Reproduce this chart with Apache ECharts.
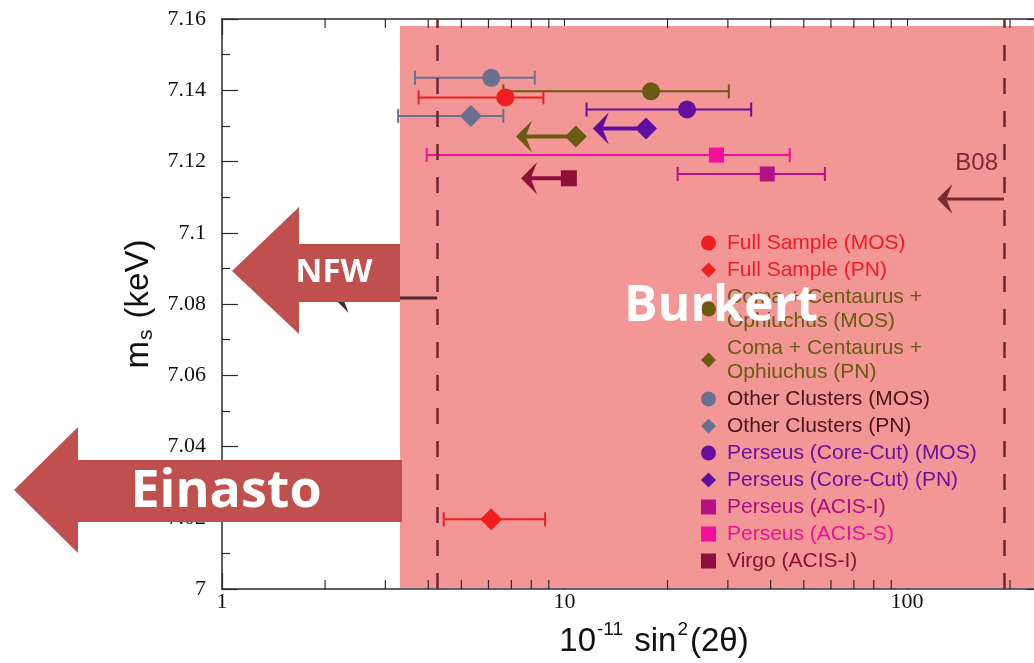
<!DOCTYPE html>
<html>
<head>
<meta charset="utf-8">
<script src="https://cdn.jsdelivr.net/npm/echarts@6/dist/echarts.min.js"></script>
<style>
  html, body { margin: 0; padding: 0; background: #fff; }
  #chart { width: 1034px; height: 663px; }
</style>
</head>
<body>
<div id="chart"></div>
<script>
// legend names of the samples
const names = [
  'Full Sample (MOS)', 'Full Sample (PN)',
  'Coma + Centaurus +\nOphiuchus (MOS)', 'Coma + Centaurus +\nOphiuchus (PN)',
  'Other Clusters (MOS)', 'Other Clusters (PN)',
  'Perseus (Core-Cut) (MOS)', 'Perseus (Core-Cut) (PN)',
  'Perseus (ACIS-I)', 'Perseus (ACIS-S)', 'Virgo (ACIS-I)'
]
const symbols = ['circle', 'diamond', 'circle', 'diamond', 'circle', 'diamond', 'circle', 'diamond', 'rect', 'rect', 'rect']
const symbolSizes = [18, 22, 18, 22, 18, 22, 18, 22, 15, 15, 16]
const colors = ['#f01e1e', '#f01e1e', '#6b5a12', '#6b5a12', '#68728f', '#68728f', '#650e9b', '#5f0fa0', '#b3108a', '#f20f9b', '#8e0f3a']
const textColors = ['#ee1c24', '#ee1c24', '#6b5a12', '#6b5a12', '#4a1518', '#4a1518', '#6a12a0', '#6a12a0', '#a8107f', '#f0109a', '#8a1030']

// best fit: 10^-11 sin^2(2θ) and m_s (keV)
const sin2 = [6.72, 6.11, 17.9, 10.8, 6.11, 5.33, 22.8, 17.3, 39.1, 27.8, 10.3]
const energy = [7.138, 7.0196, 7.1397, 7.127, 7.1435, 7.1328, 7.1346, 7.1293, 7.1165, 7.1218, 7.1153]
const sin2Low = [3.75, 4.44, 6.63, null, 3.66, 3.27, 11.6, null, 21.4, 3.96, null]
const sin2High = [8.68, 8.78, 30.2, null, 8.19, 6.63, 35.1, null, 57.6, 45.5, null]
// upper limits, arrow runs from the point to here
const sin2Limit = [null, null, null, 7.22, null, null, null, 12.1, null, null, 7.47]

// dashed bounds and their arrows (B08 on the right)
const boundX = [4.25, 192]
const noteFrom = [192, 4.25]
const noteTo = [122.7, 2.12]
const noteY = [7.1095, 7.0817]

// axes
const xMin = 1, xMax = 235
const yMin = 7, yMax = 7.16, yStep = 0.02
const xMinorTicks = [2, 3, 4, 5, 6, 7, 8, 9, 20, 30, 40, 50, 60, 70, 80, 90, 200]

const axisColor = '#2a2a2a'
const serif = 'Liberation Serif'
const sans = 'Liberation Sans'

function arrowShapes(x0, y0, tx, ty, color, w, head) {
  return [
    { type: 'line', shape: { x1: x0, y1: y0, x2: tx + head * 0.6, y2: ty },
      style: { stroke: color, lineWidth: w } },
    { type: 'polygon',
      shape: { points: [[tx, ty], [tx + head, ty - head], [tx + head * 0.6, ty], [tx + head, ty + head]] },
      style: { fill: color } }
  ]
}

const series = []

// minor ticks of the log axis, bottom and top
series.push({
  type: 'custom',
  silent: true,
  z: 3,
  data: xMinorTicks.map(v => [v, yMin]),
  encode: { x: 0, y: 1 },
  renderItem(params, api) {
    const b = api.coord([api.value(0), yMin])
    const t = api.coord([api.value(0), yMax])
    return {
      type: 'group',
      children: [
        { type: 'line', shape: { x1: b[0], y1: b[1], x2: b[0], y2: b[1] - 9 }, style: { stroke: axisColor, lineWidth: 1.2 } },
        { type: 'line', shape: { x1: t[0], y1: t[1], x2: t[0], y2: t[1] + 9 }, style: { stroke: axisColor, lineWidth: 1.2 } }
      ]
    }
  }
})

// dashed bounds
series.push({
  type: 'line',
  data: [],
  silent: true,
  markLine: {
    symbol: 'none',
    label: { show: false },
    lineStyle: { color: '#6e2630', width: 2.5, type: [16, 17] },
    data: boundX.map(v => ({ xAxis: v }))
  }
})

// error bars
const errRows = []
sin2Low.forEach((lo, i) => { if (lo != null) errRows.push([lo, sin2High[i], energy[i], i]) })
series.push({
  type: 'custom',
  silent: true,
  z: 4,
  data: errRows,
  encode: { x: [0, 1], y: 2 },
  renderItem(params, api) {
    const c = colors[api.value(3)]
    const a = api.coord([api.value(0), api.value(2)])
    const b = api.coord([api.value(1), api.value(2)])
    const st = { stroke: c, lineWidth: 2 }
    return {
      type: 'group',
      children: [
        { type: 'line', shape: { x1: a[0], y1: a[1], x2: b[0], y2: b[1] }, style: st },
        { type: 'line', shape: { x1: a[0], y1: a[1] - 7, x2: a[0], y2: a[1] + 7 }, style: st },
        { type: 'line', shape: { x1: b[0], y1: b[1] - 7, x2: b[0], y2: b[1] + 7 }, style: st }
      ]
    }
  }
})

// upper limit arrows
const limRows = []
sin2Limit.forEach((v, i) => { if (v != null) limRows.push([sin2[i], energy[i], v, i]) })
series.push({
  type: 'custom',
  silent: true,
  z: 4,
  data: limRows,
  encode: { x: [0, 2], y: 1 },
  renderItem(params, api) {
    const p = api.coord([api.value(0), api.value(1)])
    const t = api.coord([api.value(2), api.value(1)])
    return { type: 'group', children: arrowShapes(p[0], p[1], t[0], t[1], colors[api.value(3)], 4, 16) }
  }
})

// arrows from the bounds
series.push({
  type: 'custom',
  silent: true,
  z: 4,
  data: noteFrom.map((v, i) => [v, noteY[i], noteTo[i]]),
  encode: { x: [0, 2], y: 1 },
  renderItem(params, api) {
    const p = api.coord([api.value(0), api.value(1)])
    const t = api.coord([api.value(2), api.value(1)])
    const c = params.dataIndex === 0 ? '#7b2a33' : '#4a2a2a'
    return { type: 'group', children: arrowShapes(p[0], p[1], t[0], t[1], c, 3, 15) }
  }
})

// the points
names.forEach((n, i) => {
  series.push({
    name: n,
    type: 'scatter',
    symbol: symbols[i],
    symbolSize: symbolSizes[i],
    z: 6,
    itemStyle: { color: colors[i], opacity: 1 },
    data: [[sin2[i], energy[i]]]
  })
})

const tickStyle = { lineStyle: { color: axisColor, width: 1.2 } }

const option = {
  animation: false,
  backgroundColor: '#fff',
  grid: { left: 222, top: 19, right: 0, bottom: 70 },
  xAxis: [{
    type: 'log',
    min: xMin,
    max: xMax,
    logBase: 10,
    name: '{a|10}{p|-11}{a| sin}{p|2}{a|(2θ)}',
    nameLocation: 'middle',
    nameGap: 24,
    nameTextStyle: {
      padding: [0, 0, 0, 52],
      rich: {
        a: { fontFamily: sans, fontSize: 33, color: '#111', lineHeight: 40, verticalAlign: 'bottom' },
        p: { fontFamily: sans, fontSize: 19, color: '#111', lineHeight: 19, verticalAlign: 'top', padding: [2, 2, 0, 1] }
      }
    },
    axisLine: { lineStyle: { color: axisColor, width: 1.5 } },
    axisTick: { inside: true, length: 16, ...tickStyle },
    splitLine: { show: false },
    axisLabel: { fontFamily: serif, fontSize: 22, color: '#111', margin: 2, showMaxLabel: false }
  }, {
    type: 'log',
    position: 'top',
    min: xMin,
    max: xMax,
    logBase: 10,
    axisLine: { lineStyle: { color: axisColor, width: 1.5 } },
    axisTick: { inside: true, length: 16, ...tickStyle },
    axisLabel: { show: false },
    splitLine: { show: false }
  }],
  yAxis: [{
    type: 'value',
    min: yMin,
    max: yMax,
    interval: yStep,
    name: '{a|m}{s|s}{a| (keV)}',
    nameLocation: 'middle',
    nameRotate: 90,
    nameGap: 46,
    nameTextStyle: {
      rich: {
        a: { fontFamily: sans, fontSize: 33, color: '#111', lineHeight: 34, verticalAlign: 'top' },
        s: { fontFamily: sans, fontSize: 21, color: '#111', lineHeight: 21, verticalAlign: 'bottom', padding: [20, 2, 0, 1] }
      }
    },
    axisLine: { lineStyle: { color: axisColor, width: 1.5 } },
    axisTick: { inside: true, length: 16, ...tickStyle },
    minorTick: { show: true, splitNumber: 2, length: 8, ...tickStyle },
    splitLine: { show: false },
    axisLabel: { fontFamily: serif, fontSize: 22, color: '#111', margin: 16 }
  }, {
    type: 'value',
    position: 'right',
    min: yMin,
    max: yMax,
    interval: yStep,
    axisLine: { show: false },
    axisTick: { inside: true, length: 7, ...tickStyle },
    axisLabel: { show: false },
    splitLine: { show: false }
  }],
  legend: {
    data: names.map((n, i) => ({ name: n, textStyle: { color: textColors[i] } })),
    orient: 'vertical',
    left: 696,
    top: 226,
    itemWidth: 15,
    itemHeight: 15,
    itemGap: 3,
    selectedMode: false,
    textStyle: { fontFamily: sans, fontSize: 21, lineHeight: 24, padding: [0, 0, 0, 6] }
  },
  graphic: [
    { type: 'rect', z: 1, silent: true, shape: { x: 400, y: 26, width: 640, height: 562 }, style: { fill: '#f29696' } },
    { type: 'polygon', z: 100, silent: true,
      shape: { points: [[232, 271], [299, 207], [299, 244], [400, 244], [400, 302], [299, 302], [299, 334]] },
      style: { fill: '#c0504d' } },
    { type: 'text', z: 101, silent: true, x: 334, y: 273,
      style: { text: 'NFW', fill: '#fff', font: 'bold 33px "Open Sans"', align: 'center', verticalAlign: 'middle' } },
    { type: 'polygon', z: 100, silent: true,
      shape: { points: [[14, 490], [78, 427], [78, 460], [402, 460], [402, 522], [78, 522], [78, 553]] },
      style: { fill: '#c0504d' } },
    { type: 'text', z: 101, silent: true, x: 226, y: 492,
      style: { text: 'Einasto', fill: '#fff', font: 'bold 52px "Open Sans"', align: 'center', verticalAlign: 'middle' } },
    { type: 'text', z: 101, silent: true, x: 721, y: 307,
      style: { text: 'Burkert', fill: '#fff', font: 'bold 50px "Open Sans"', align: 'center', verticalAlign: 'middle' } },
    { type: 'text', z: 50, silent: true, x: 998, y: 163,
      style: { text: 'B08', fill: '#7b2a33', font: '24px "Liberation Sans"', align: 'right', verticalAlign: 'middle' } }
  ],
  series: series
}

const myChart = echarts.init(document.getElementById('chart'))
myChart.setOption(option)
</script>
</body>
</html>
